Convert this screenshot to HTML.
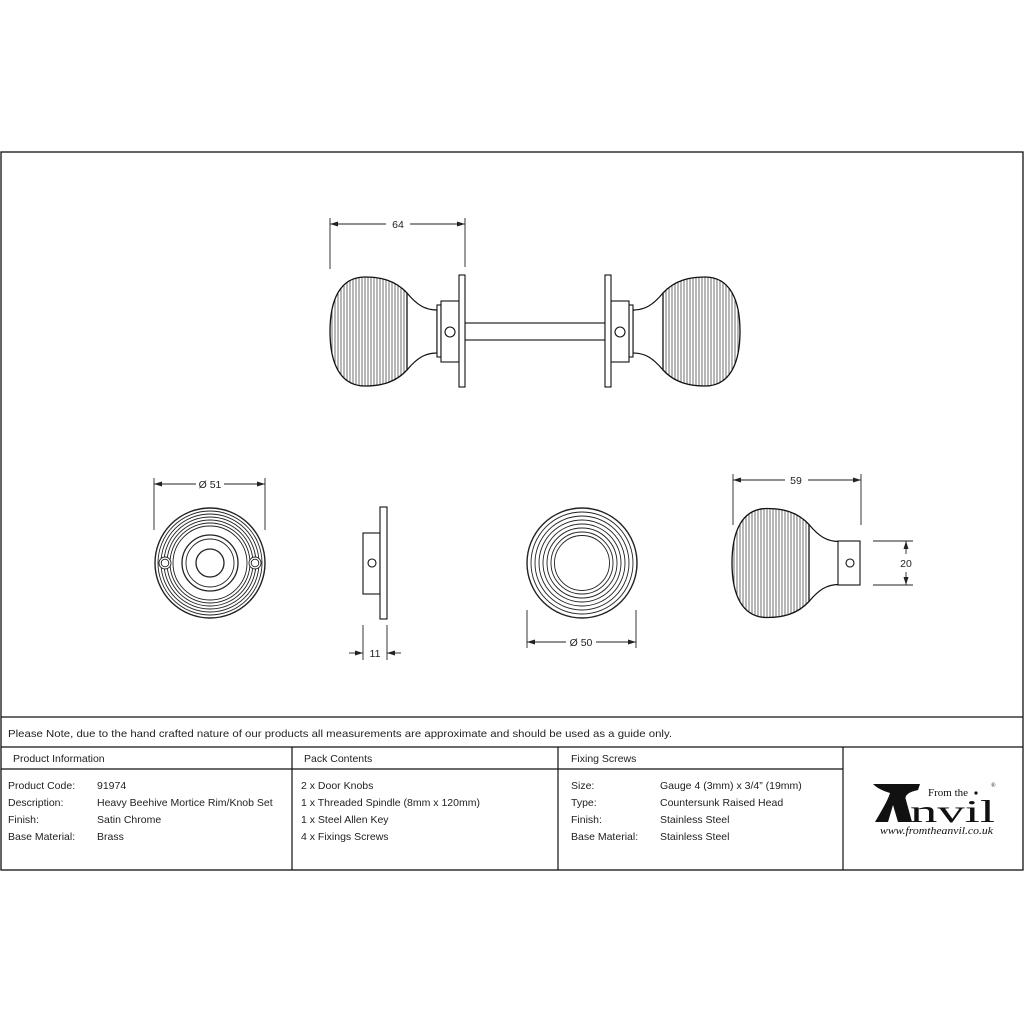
<!DOCTYPE html>
<html><head><meta charset="utf-8"><style>
html,body{margin:0;padding:0;background:#fff;}
svg{display:block;}
text{font-family:"Liberation Sans",sans-serif;fill:#222;}
text.serif{font-family:"Liberation Serif",serif;fill:#111;}
</style></head><body>
<svg width="1024" height="1024" viewBox="0 0 1024 1024" xmlns="http://www.w3.org/2000/svg">
<defs>
<clipPath id="kc"><path d="M407,293 C395,280 380,277 365,277 C340,277 330,300 330,331.5 C330,363 340,386 365,386 C380,386 395,383 407,370 Z"/></clipPath>
<g id="knob">
  <g clip-path="url(#kc)" stroke="#333" stroke-width="0.7">
    <path d="M332,270V392M335,270V392M338,270V392M341,270V392M344,270V392M347,270V392M350,270V392M353,270V392M356,270V392M359,270V392M362,270V392M365,270V392M368,270V392M371,270V392M374,270V392M377,270V392M380,270V392M383,270V392M386,270V392M389,270V392M392,270V392M395,270V392M398,270V392M401,270V392M404,270V392"/>
  </g>
  <path d="M407,293 C395,280 380,277 365,277 C340,277 330,300 330,331.5 C330,363 340,386 365,386 C380,386 395,383 407,370 Z" fill="none" stroke="#111" stroke-width="1.3"/>
  <path d="M407,293 C417,305 425,310 437,310 L437,353 C425,353 417,358 407,370" fill="none" stroke="#111" stroke-width="1.2"/>
</g>
<g id="hw">
  <rect x="437" y="305" width="4" height="52" fill="#fff" stroke="#111" stroke-width="1.1"/>
  <rect x="441" y="301" width="18" height="61" fill="#fff" stroke="#111" stroke-width="1.1"/>
  <rect x="459" y="275" width="6" height="112" fill="#fff" stroke="#111" stroke-width="1.1"/>
  <circle cx="450" cy="332" r="5" fill="#fff" stroke="#111" stroke-width="1.1"/>
</g>
</defs>

<rect x="1" y="152" width="1022" height="718" fill="none" stroke="#111" stroke-width="1.3"/>
<line x1="1" y1="717" x2="1023" y2="717" stroke="#111" stroke-width="1.2"/>
<line x1="1" y1="747" x2="1023" y2="747" stroke="#111" stroke-width="1.2"/>
<line x1="1" y1="769" x2="843" y2="769" stroke="#111" stroke-width="1.2"/>
<line x1="292" y1="747" x2="292" y2="870" stroke="#111" stroke-width="1.2"/>
<line x1="558" y1="747" x2="558" y2="870" stroke="#111" stroke-width="1.2"/>
<line x1="843" y1="747" x2="843" y2="870" stroke="#111" stroke-width="1.2"/>

<rect x="465" y="323" width="140" height="17" fill="none" stroke="#111" stroke-width="1.1"/>
<use href="#knob"/>
<use href="#hw"/>
<g transform="translate(1070,0) scale(-1,1)"><use href="#knob"/><use href="#hw"/></g>

<g stroke="#222" stroke-width="0.9" fill="#222">
  <line x1="330" y1="218" x2="330" y2="269"/><line x1="465" y1="218" x2="465" y2="267"/>
  <line x1="330" y1="224" x2="386" y2="224"/><line x1="410" y1="224" x2="465" y2="224"/>
  <path d="M330,224 l8,-2.5 v5z M465,224 l-8,-2.5 v5z" stroke="none"/>
  <line x1="154" y1="478" x2="154" y2="530"/><line x1="265" y1="478" x2="265" y2="530"/>
  <line x1="154" y1="484" x2="196" y2="484"/><line x1="224" y1="484" x2="265" y2="484"/>
  <path d="M154,484 l8,-2.5 v5z M265,484 l-8,-2.5 v5z" stroke="none"/>
  <line x1="363" y1="625" x2="363" y2="660"/><line x1="387" y1="625" x2="387" y2="660"/>
  <line x1="349" y1="653" x2="363" y2="653"/><line x1="387" y1="653" x2="401" y2="653"/>
  <path d="M363,653 l-8,-2.5 v5z M387,653 l8,-2.5 v5z" stroke="none"/>
  <line x1="527" y1="610" x2="527" y2="648"/><line x1="636" y1="610" x2="636" y2="648"/>
  <line x1="527" y1="642" x2="566" y2="642"/><line x1="596" y1="642" x2="636" y2="642"/>
  <path d="M527,642 l8,-2.5 v5z M636,642 l-8,-2.5 v5z" stroke="none"/>
  <line x1="733" y1="474" x2="733" y2="525"/><line x1="861" y1="474" x2="861" y2="525"/>
  <line x1="733" y1="480" x2="785" y2="480"/><line x1="808" y1="480" x2="861" y2="480"/>
  <path d="M733,480 l8,-2.5 v5z M861,480 l-8,-2.5 v5z" stroke="none"/>
  <line x1="873" y1="541" x2="913" y2="541"/><line x1="873" y1="585" x2="913" y2="585"/>
  <line x1="906" y1="541" x2="906" y2="554"/><line x1="906" y1="572" x2="906" y2="585"/>
  <path d="M906,541 l-2.5,8 h5z M906,585 l-2.5,-8 h5z" stroke="none"/>
</g>
<g font-size="10.5" text-anchor="middle">
  <text x="398" y="228">64</text>
  <text x="210" y="488">Ø 51</text>
  <text x="375" y="657">11</text>
  <text x="581" y="646">Ø 50</text>
  <text x="796" y="484">59</text>
  <text x="906" y="567">20</text>
</g>

<g fill="none" stroke="#222" stroke-width="0.9">
  <circle cx="210" cy="563" r="55" stroke-width="1.4"/>
  <circle cx="210" cy="563" r="52"/><circle cx="210" cy="563" r="49"/>
  <circle cx="210" cy="563" r="46"/><circle cx="210" cy="563" r="43"/>
  <circle cx="210" cy="563" r="40"/><circle cx="210" cy="563" r="37"/>
  <circle cx="210" cy="563" r="28" stroke-width="1.3"/><circle cx="210" cy="563" r="24"/>
  <circle cx="210" cy="563" r="14" stroke-width="1.3"/>
  <circle cx="165" cy="563" r="6" fill="#fff"/><circle cx="165" cy="563" r="3.8"/>
  <circle cx="255" cy="563" r="6" fill="#fff"/><circle cx="255" cy="563" r="3.8"/>
</g>
<g fill="#fff" stroke="#111" stroke-width="1.1">
  <rect x="363" y="533" width="17" height="61"/>
  <rect x="380" y="507" width="7" height="112"/>
  <circle cx="372" cy="563" r="4"/>
</g>
<g fill="none" stroke="#222" stroke-width="0.9">
  <circle cx="582" cy="563" r="55" stroke-width="1.4"/>
  <circle cx="582" cy="563" r="51"/><circle cx="582" cy="563" r="47"/>
  <circle cx="582" cy="563" r="43"/><circle cx="582" cy="563" r="39"/>
  <circle cx="582" cy="563" r="35"/><circle cx="582" cy="563" r="31"/>
  <circle cx="582" cy="563" r="27.5"/>
</g>
<g transform="translate(402,231.5)"><use href="#knob"/></g>
<rect x="838" y="541" width="22" height="44" fill="#fff" stroke="#111" stroke-width="1.1"/>
<circle cx="850" cy="563" r="4" fill="#fff" stroke="#111" stroke-width="1.1"/>

<g font-size="10.5">
  <text x="8" y="737" textLength="664" lengthAdjust="spacingAndGlyphs">Please Note, due to the hand crafted nature of our products all measurements are approximate and should be used as a guide only.</text>
  <text x="13" y="762">Product Information</text>
  <text x="304" y="762">Pack Contents</text>
  <text x="571" y="762">Fixing Screws</text>
  <text x="8" y="789">Product Code:</text><text x="97" y="789">91974</text>
  <text x="8" y="806">Description:</text><text x="97" y="806">Heavy Beehive Mortice Rim/Knob Set</text>
  <text x="8" y="823">Finish:</text><text x="97" y="823">Satin Chrome</text>
  <text x="8" y="840">Base Material:</text><text x="97" y="840">Brass</text>
  <text x="301" y="789">2 x Door Knobs</text>
  <text x="301" y="806">1 x Threaded Spindle (8mm x 120mm)</text>
  <text x="301" y="823">1 x Steel Allen Key</text>
  <text x="301" y="840">4 x Fixings Screws</text>
  <text x="571" y="789">Size:</text><text x="660" y="789">Gauge 4 (3mm) x 3/4” (19mm)</text>
  <text x="571" y="806">Type:</text><text x="660" y="806">Countersunk Raised Head</text>
  <text x="571" y="823">Finish:</text><text x="660" y="823">Stainless Steel</text>
  <text x="571" y="840">Base Material:</text><text x="660" y="840">Stainless Steel</text>
</g>

<path d="M873,784 L920,784 L918,790 C908,792 904,796 906,800 L912,822 L898,822 L893,805 L888,822 L875,822 C882,810 888,800 890,793 C884,791 878,789 873,784 Z" fill="#111"/>
<text class="serif" x="928" y="796" font-size="11">From the</text>
<circle cx="976" cy="793" r="1.6" fill="#111"/>
<text class="serif" x="910" y="822" font-size="32" textLength="85" lengthAdjust="spacingAndGlyphs">nvil</text>
<text class="serif" x="991" y="787" font-size="6">®</text>
<text class="serif" x="880" y="834" font-style="italic" font-size="10" textLength="113" lengthAdjust="spacingAndGlyphs">www.fromtheanvil.co.uk</text>
</svg>
</body></html>
